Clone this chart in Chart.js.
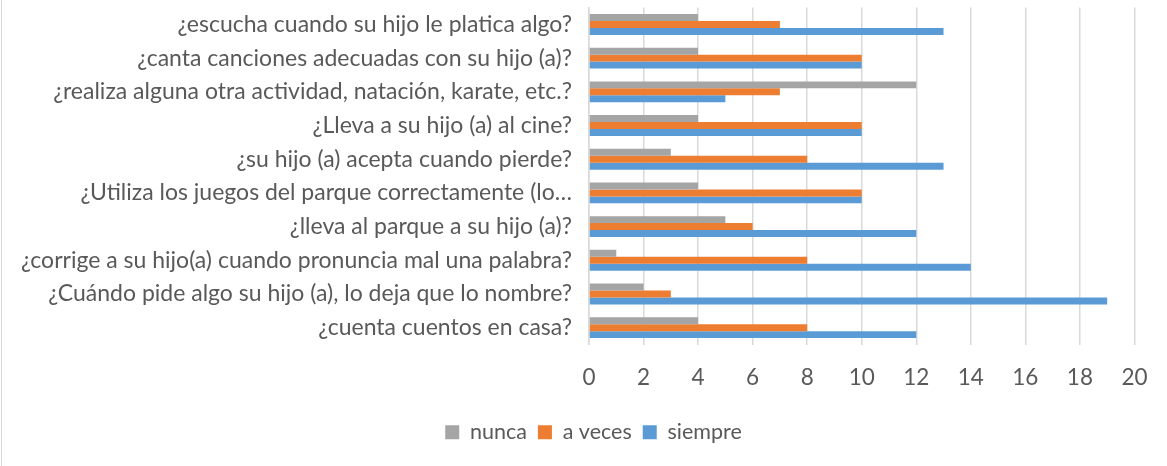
<!DOCTYPE html>
<html>
<head>
<meta charset="utf-8">
<script src="https://cdn.jsdelivr.net/npm/chart.js@4.4.1/dist/chart.umd.min.js"></script>
<style>
html,body{margin:0;padding:0;background:#fff;}
#wrap{position:relative;width:1167px;height:466px;}
#frame{position:absolute;left:1px;top:0;width:0;height:466px;border-left:1.5px solid #d9d9d9;}
</style>
</head>
<body>
<div id="wrap"><canvas id="c" width="1167" height="466"></canvas><div id="frame"></div></div>
<script>
const categories = [
  "¿escucha cuando su hijo le platica algo?",
  "¿canta canciones adecuadas con su hijo (a)?",
  "¿realiza alguna otra actividad, natación, karate, etc.?",
  "¿Lleva a su hijo (a) al cine?",
  "¿su hijo (a) acepta cuando pierde?",
  "¿Utiliza los juegos del parque correctamente (lo…",
  "¿lleva al parque a su hijo (a)?",
  "¿corrige a su hijo(a) cuando pronuncia mal una palabra?",
  "¿Cuándo pide algo su hijo (a), lo deja que lo nombre?",
  "¿cuenta cuentos en casa?"
];
const nunca   = [4, 4, 12, 4, 3, 4, 5, 1, 2, 4];
const aVeces  = [7, 10, 7, 10, 8, 10, 6, 8, 3, 8];
const siempre = [13, 10, 5, 10, 13, 10, 12, 14, 19, 12];
const xTicks = [0, 2, 4, 6, 8, 10, 12, 14, 16, 18, 20];

const FONT = "Lato, 'Open Sans', sans-serif";
Chart.defaults.font.family = FONT;
Chart.defaults.color = '#595959';

const legendShift = {
  id: 'legendShift',
  afterLayout(chart) {
    if (chart.legend) { chart.legend.left += 26; chart.legend.right += 26; }
  }
};

new Chart(document.getElementById('c'), {
  type: 'bar',
  data: {
    labels: categories,
    datasets: [
      {label: 'nunca', data: nunca, backgroundColor: '#a5a5a5'},
      {label: 'a veces', data: aVeces, backgroundColor: '#ed7d31'},
      {label: 'siempre', data: siempre, backgroundColor: '#5b9bd5'}
    ]
  },
  plugins: [legendShift],
  options: {
    indexAxis: 'y',
    responsive: false,
    animation: false,
    layout: {padding: {top: 7.6, right: 32, bottom: 13, left: 0}},
    datasets: {bar: {categoryPercentage: 0.62, barPercentage: 1.0}},
    scales: {
      x: {
        min: 0, max: 20,
        afterBuildTicks: (s) => { s.ticks = xTicks.map(v => ({value: v})); },
        grid: {color: '#d9d9d9', lineWidth: 1.5, drawTicks: false},
        border: {display: false},
        ticks: {font: {size: 22.5}, color: '#595959', padding: 19.5}
      },
      y: {
        grid: {display: false},
        border: {display: true, color: '#d9d9d9', width: 1.5},
        ticks: {font: {size: 23}, color: '#595959', padding: 9, autoSkip: false},
        afterFit: (s) => { s.width = 589; s.paddingTop = 0; s.paddingBottom = 0; }
      }
    },
    plugins: {
      legend: {
        position: 'bottom',
        labels: {boxWidth: 14, boxHeight: 14, font: {size: 21.5}, color: '#595959', padding: 11}
      },
      tooltip: {enabled: false}
    }
  }
});
</script>
</body>
</html>
